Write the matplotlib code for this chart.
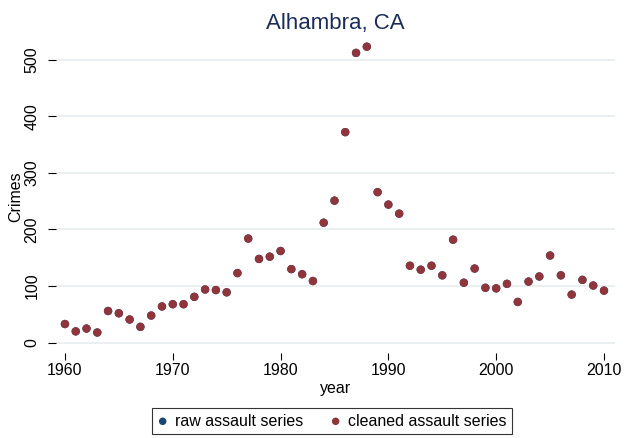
import matplotlib
matplotlib.use("Agg")
import matplotlib.pyplot as plt

plt.rcParams["font.family"] = ["Liberation Sans", "DejaVu Sans"]

# Assault counts
years = list(range(1960, 2011))
cleaned_assault = [
    33, 20, 25, 18, 56, 52, 41, 28, 48, 64,
    68, 68, 81, 94, 93, 89, 123, 184, 148, 152,
    162, 130, 121, 109, 212, 251, 372, 512, 523, 266,
    244, 228, 136, 129, 136, 119, 182, 106, 131, 97,
    96, 104, 72, 108, 117, 154, 119, 85, 111, 101,
    92,
]
# raw series sits under the cleaned one (identical values)
raw_assault = list(cleaned_assault)

y_ticks = [0, 100, 200, 300, 400, 500]
x_ticks = [1960, 1970, 1980, 1990, 2000, 2010]

NAVY = "#1a476f"
MAROON = "#90353b"

fig = plt.figure(figsize=(6.36, 4.38), dpi=100)
ax = fig.add_axes([56 / 636, 1 - 353 / 438, 559 / 636, 313 / 438])

ax.scatter(years, raw_assault, s=36, color=NAVY, edgecolors="none",
           label="raw assault series", zorder=3)
ax.scatter(years, cleaned_assault, s=36, color=MAROON, edgecolors="none",
           label="cleaned assault series", zorder=4)

ax.set_xlim(1959.17, 2011.02)
ax.set_ylim(-18.2, 534.8)
ax.set_xticks(x_ticks)
ax.set_yticks(y_ticks)
ax.grid(axis="y", color="#eaf0f2", linewidth=1.4, zorder=0)
ax.set_axisbelow(True)
for s in ax.spines.values():
    s.set_visible(False)

ax.tick_params(axis="y", length=6, width=0.8, pad=6, labelsize=11.5,
               labelrotation=90)
ax.tick_params(axis="x", length=5, width=0.8, pad=2, labelsize=11.5)
for lab in ax.get_yticklabels():
    lab.set_va("center")

ax.set_ylabel("Crimes", fontsize=11.5, labelpad=1)
ax.set_xlabel("year", fontsize=11.5, labelpad=2)
ax.set_title("Alhambra, CA", fontsize=16, color="#1a2c5a", pad=8)

leg = fig.legend(loc="center", bbox_to_anchor=(332 / 636, 1 - 421 / 438),
                 ncol=2, frameon=True, fancybox=False, fontsize=11.5,
                 markerscale=0.9, handlelength=0.6, handletextpad=0.45,
                 columnspacing=1.75, borderpad=0.35)
leg.get_frame().set_edgecolor("black")
leg.get_frame().set_linewidth(0.8)

fig.savefig("out.png", dpi=100)
